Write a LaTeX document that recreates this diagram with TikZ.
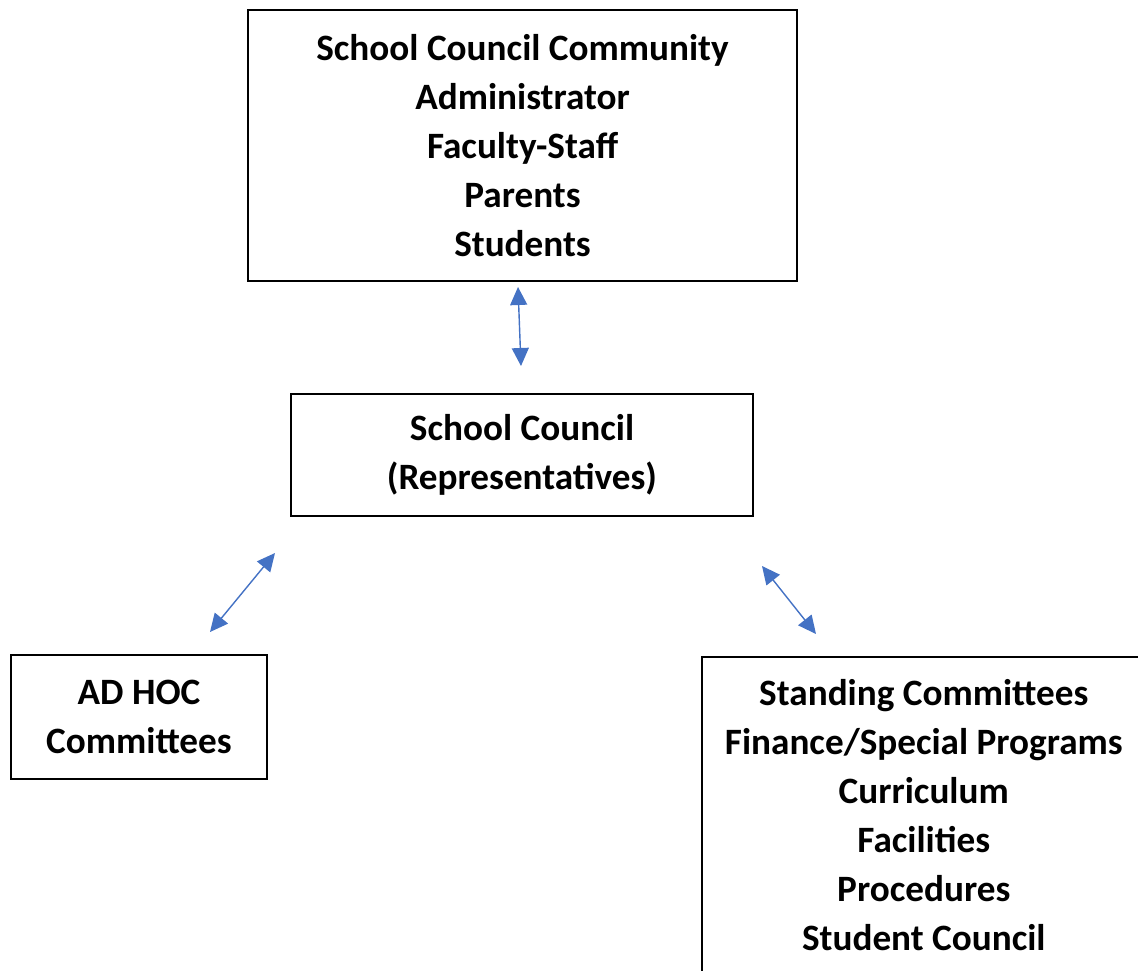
\documentclass[tikz,border=0pt]{standalone}
\usepackage{fontspec}
\setmainfont{Carlito}
\usetikzlibrary{arrows.meta}
\definecolor{arrowblue}{HTML}{4472C4}
\tikzset{
  box/.style={draw=black, line width=1.6pt, fill=none, align=center, inner sep=0pt,
    font=\bfseries\fontsize{37.2}{49}\selectfont},
  link/.style={draw=arrowblue, line width=1.4pt,
    {Triangle[length=18pt,width=17pt]}-{Triangle[length=18pt,width=17pt]}}
}
\begin{document}
\begin{tikzpicture}[x=1pt,y=-1pt]
\useasboundingbox (0,0) rectangle (1138,971);
\node[box, minimum width=549, minimum height=271] (community) at (522.5,145.5)
  {School Council Community\\Administrator\\Faculty-Staff\\Parents\\Students};
\node[box, minimum width=462, minimum height=122] (council) at (522,455)
  {School Council\\(Representatives)};
\node[box, minimum width=256, minimum height=124] (adhoc) at (139,717)
  {AD HOC\\Committees};
\node[box, minimum width=444, minimum height=317, anchor=north west] (standing) at (701,656)
  {Standing Committees\\Finance/Special Programs\\Curriculum\\Facilities\\Procedures\\Student Council};
\coordinate (a1) at (518,287);
\coordinate (a2) at (521,366);
\coordinate (b1) at (275,553);
\coordinate (b2) at (210,632);
\coordinate (c1) at (762,566);
\coordinate (c2) at (816,634);
\draw[link] (a1) -- (a2);
\draw[link] (b1) -- (b2);
\draw[link] (c1) -- (c2);
\end{tikzpicture}
\end{document}
